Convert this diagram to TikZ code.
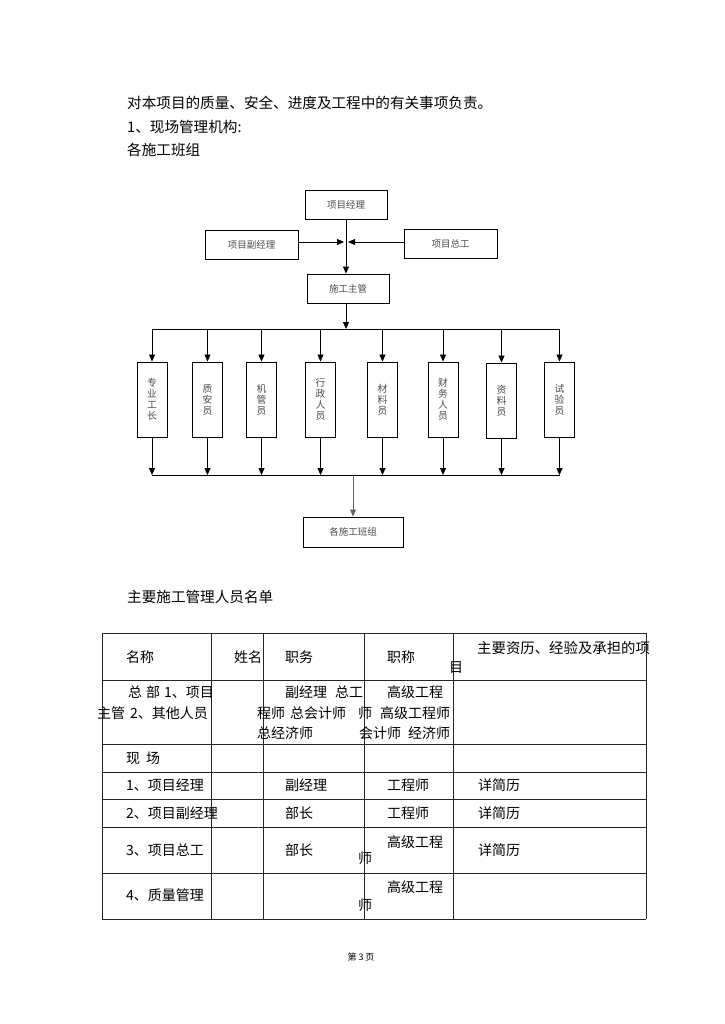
\documentclass[tikz,border=0pt]{standalone}
\usepackage{fontspec}
\setmainfont{Noto Sans CJK SC}
\usetikzlibrary{arrows.meta}
\begin{document}
\begin{tikzpicture}[x=1pt,y=-1pt,
  tx/.style={anchor=west,inner sep=0pt,font=\fontsize{14}{16}\selectfont},
  ptx/.style={anchor=west,inner sep=0pt,font=\fontsize{14.6}{16}\selectfont},
  hbox/.style={draw,line width=0.9pt,minimum width=#1,minimum height=29pt,inner sep=0pt,font=\fontsize{9.5}{10}\selectfont,text=black!70},
  vbox/.style={draw,line width=0.9pt,minimum width=30pt,minimum height=75pt,inner sep=0pt,align=center,font=\fontsize{9.8}{11}\selectfont,text=black!70},
  arr/.style={line width=0.8pt,-{Triangle[length=7pt,width=6pt]}},
  ln/.style={line width=0.8pt},
  tbl/.style={line width=1pt,black!85}]
\useasboundingbox[fill=white] (0,0) rectangle (724,1024);

% top text
\node[ptx] (p1) at (127,103) {对本项目的质量、安全、进度及工程中的有关事项负责。};
\node[ptx] (p2) at (127,127) {1、现场管理机构:};
\node[ptx] (p3) at (127,150) {各施工班组};

% org chart
\node[hbox=82pt] (pm) at (346,204.5) {项目经理};
\node[hbox=93pt] (dpm) at (251.5,244.5) {项目副经理};
\node[hbox=93pt] (ce) at (450.5,243.5) {项目总工};
\node[hbox=82pt] (sg) at (348,288.5) {施工主管};
\coordinate (j) at (346,242);
\draw[arr] (dpm.east |- j) -- ([xshift=-2pt]j);
\draw[arr] (ce.west |- j) -- ([xshift=2pt]j);
\draw[arr] (pm.south) -- (pm.south |- sg.north);
\coordinate (bt) at (346,329);
\draw[arr] (pm.south |- sg.south) -- (bt);

\node[vbox] (b1) at (152,399.5) {专\\业\\工\\长};
\node[vbox] (b2) at (207.5,399.5) {质\\安\\员};
\node[vbox] (b3) at (261.5,399.5) {机\\管\\员};
\node[vbox] (b4) at (320.5,399.5) {行\\政\\人\\员};
\node[vbox] (b5) at (382.5,399.5) {材\\料\\员};
\node[vbox] (b6) at (443,399.5) {财\\务\\人\\员};
\node[vbox] (b7) at (501.5,400.5) {资\\料\\员};
\node[vbox] (b8) at (559.5,399.5) {试\\验\\员};

\coordinate (busL) at (152,329);
\coordinate (busR) at (559.5,329);
\coordinate (lbL) at (152,475);
\coordinate (lbR) at (559.5,475);
\draw[ln] (busL) -- (busR);
\draw[ln] (lbL) -- (lbR);
\foreach \b in {b1,b2,b3,b4,b5,b6,b7,b8}{
  \draw[arr] (\b.north |- busL) -- (\b.north);
  \draw[arr] (\b.south) -- (\b.south |- lbL);
}
\node[hbox=100pt,minimum height=30pt] (gb) at (353,532) {各施工班组};
\draw[arr,black!60] (gb.north |- lbL) -- (gb.north);

% table title
\node[ptx] (tt) at (127,597) {主要施工管理人员名单};

% table grid
\foreach \y in {633,680,744,772,799,827,873,919}{
  \draw[tbl] (102,\y) -- (646,\y);
}
\foreach \x in {102,211,263,364,453,646}{
  \draw[tbl] (\x,633) -- (\x,919);
}

% header
\node[tx] (h1) at (126,657) {名称};
\node[tx] (h2) at (234,657) {姓名};
\node[tx] (h3) at (285,657) {职务};
\node[tx] (h4) at (387,657) {职称};
\node[tx,font=\fontsize{14.4}{16}\selectfont] (h5) at (477,648) {主要资历、经验及承担的项};
\node[tx] (h5b) at (449,668) {目};

% row: headquarters
\node[tx] (r1a) at (128,692) {总\hspace{4pt}部\hspace{4pt}1、项目};
\node[tx] (r1b) at (97,713) {主管\hspace{5pt}2、其他人员};
\node[tx] (r1c) at (285,692) {副经理\hspace{8pt}总工};
\node[tx] (r1d) at (257,713) {程师\hspace{5pt}总会计师};
\node[tx] (r1e) at (257,733) {总经济师};
\node[tx] (r1f) at (387,692) {高级工程};
\node[tx] (r1g) at (358,713) {师\hspace{8pt}高级工程师};
\node[tx] (r1h) at (359,733) {会计师\hspace{7pt}经济师};

% row: site
\node[tx] (r2a) at (126,758) {现\hspace{6pt}场};

\node[tx] (r3a) at (126,785) {1、项目经理};
\node[tx] (r3b) at (285,785) {副经理};
\node[tx] (r3c) at (387,785) {工程师};
\node[tx] (r3d) at (478,785) {详简历};

\node[tx] (r4a) at (126,813) {2、项目副经理};
\node[tx] (r4b) at (285,813) {部长};
\node[tx] (r4c) at (387,813) {工程师};
\node[tx] (r4d) at (478,813) {详简历};

\node[tx] (r5a) at (126,850) {3、项目总工};
\node[tx] (r5b) at (285,850) {部长};
\node[tx] (r5c) at (387,842) {高级工程};
\node[tx] (r5d) at (358,858) {师};
\node[tx] (r5e) at (478,850) {详简历};

\node[tx] (r6a) at (126,895) {4、质量管理};
\node[tx] (r6c) at (387,887) {高级工程};
\node[tx] (r6d) at (358,905) {师};

% page number
\node[inner sep=0pt,font=\fontsize{9}{10}\selectfont] (pg) at (361,957) {第\hspace{2pt}3\hspace{2pt}页};
\end{tikzpicture}
\end{document}
